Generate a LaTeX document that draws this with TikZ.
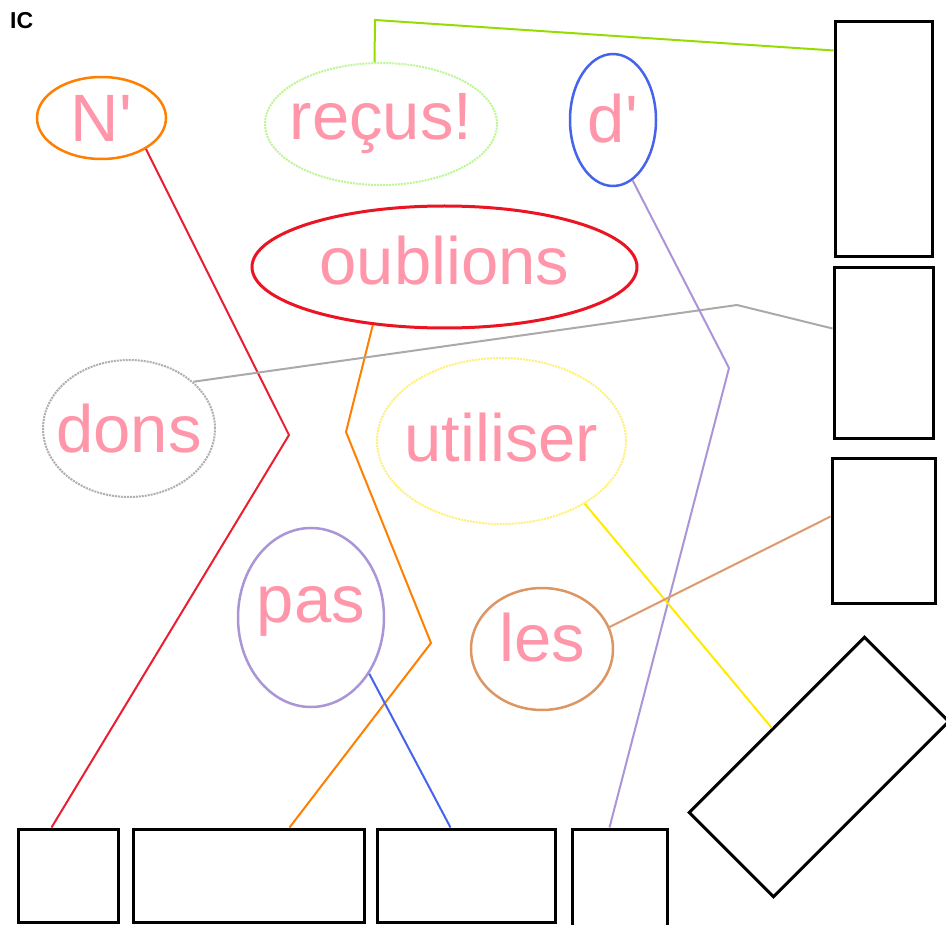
\documentclass[tikz,border=0pt]{standalone}
\usepackage{fontspec}
\setmainfont{Liberation Sans}
\usetikzlibrary{shapes.geometric,calc}
\definecolor{txtpink}{RGB}{255,150,170}
\definecolor{cN}{RGB}{255,128,0}
\definecolor{cRecus}{RGB}{190,245,150}
\definecolor{cD}{RGB}{70,100,235}
\definecolor{cOub}{RGB}{235,20,35}
\definecolor{cDons}{RGB}{175,175,175}
\definecolor{cUti}{RGB}{255,240,120}
\definecolor{cPas}{RGB}{170,150,215}
\definecolor{cLes}{RGB}{220,150,100}
\definecolor{lGreen}{RGB}{150,220,0}
\definecolor{lRed}{RGB}{235,30,50}
\definecolor{lOrange}{RGB}{255,128,0}
\definecolor{lGray}{RGB}{170,170,170}
\definecolor{lLav}{RGB}{170,150,215}
\definecolor{lBlue}{RGB}{70,100,235}
\definecolor{lYellow}{RGB}{255,235,0}
\definecolor{lTan}{RGB}{220,155,110}
\begin{document}
\begin{tikzpicture}[x=1pt,y=-1pt,
  ell/.style={ellipse, inner xsep=-60pt, inner ysep=0pt, line width=2.5pt, text=txtpink,
    font=\fontsize{67}{72}\selectfont},
  dotb/.style={ell, line width=2pt, dash pattern=on 2pt off 1pt},
  box/.style={rectangle, draw=black, line width=3pt, inner sep=0pt},
  conn/.style={line width=2pt}]
\useasboundingbox (0,0) rectangle (946,925);
\fill[white] (0,0) rectangle (946,925);
\node[anchor=north west, inner sep=0pt, font=\fontsize{23}{26}\selectfont\bfseries] (ic) at (10,12) {IC};
% ellipses
\node[ell, draw=cN, minimum width=129pt, minimum height=82pt] (n) at (101.5,118) {N\textquotesingle};
\node[dotb, draw=cRecus, minimum width=232pt, minimum height=122pt] (rc) at (381,124) {reçus!};
\node[ell, draw=cD, minimum width=86pt, minimum height=132pt, text depth=4pt] (dp) at (613,120) {d\textquotesingle};
\node[ell, draw=cOub, line width=3pt, minimum width=385pt, minimum height=122pt, text depth=14pt] (ob) at (444.5,267) {oublions};
\node[dotb, draw=cDons, minimum width=172pt, minimum height=137pt] (dn) at (129,428.5) {dons};
\node[dotb, draw=cUti, minimum width=249pt, minimum height=166pt, text depth=8pt] (ut) at (501.5,441) {utiliser};
\node[ell, draw=cPas, minimum width=146pt, minimum height=179pt, text depth=26pt] (ps) at (311,617.5) {pas};
\node[ell, draw=cLes, minimum width=142pt, minimum height=122pt, text depth=24pt] (ls) at (542,649) {les};
% boxes
\node[box, minimum width=97pt, minimum height=235pt] (R1) at (883.5,139.5) {};
\node[box, minimum width=99pt, minimum height=171pt] (R2) at (883.5,353.5) {};
\node[box, minimum width=103pt, minimum height=144pt] (R3) at (883.5,531) {};
\node[box, minimum width=248pt, minimum height=119pt, rotate=45] (rot) at (819,767) {};
\node[box, minimum width=100pt, minimum height=93pt] (B1) at (68,875.5) {};
\node[box, minimum width=231pt, minimum height=93pt] (B2) at (248.5,875.5) {};
\node[box, minimum width=178pt, minimum height=93pt] (B3) at (466,875.5) {};
\node[box, minimum width=95pt, minimum height=111pt] (B4) at (619.5,884.5) {};
% connectors
\draw[conn, lGreen] (rc.96) -- (375,20) -- ($(R1.north west)+(0,30)$);
\draw[conn, lRed] (n.-35) -- (289,435) -- ($(B1.north west)+(35,0)$);
\draw[conn, lOrange] (ob.-141) -- (346,432) -- (431,643) -- ($(B2.north west)+(158,0)$);
\draw[conn, lGray] (dn.36) -- (737,305) -- ($(R2.north west)+(0,62)$);
\draw[conn, lLav] (dp.-72) -- (729,368) -- ($(B4.north west)+(39,0)$);
\draw[conn, lBlue] (ps.-44) -- ($(B3.north west)+(75,0)$);
\draw[conn, lYellow] (ut.-37) -- ($(rot.north west)!0.477!(rot.north east)$);
\draw[conn, lTan] (ls.18) -- ($(R3.north west)+(0,59)$);
\end{tikzpicture}
\end{document}
